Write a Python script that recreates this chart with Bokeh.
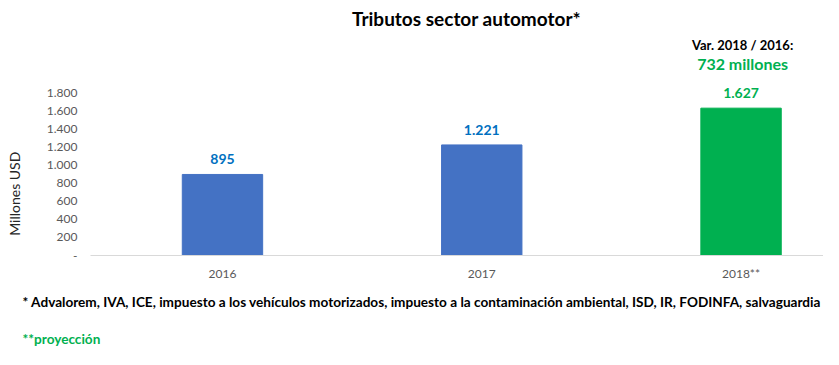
from bokeh.plotting import figure
from bokeh.models import ColumnDataSource, Range1d, FixedTicker, Label, LabelSet
from bokeh.layouts import column, row
from bokeh.core.properties import value
from bokeh.embed import file_html
from bokeh.resources import INLINE
import math

# ---- data ----
years = ["2016", "2017", "2018**"]
tributos = [895, 1221, 1627]
bar_colors = ["#4472C4", "#4472C4", "#00B050"]
label_colors = ["#0070C0", "#0070C0", "#00B050"]
y_ticks = [0, 200, 400, 600, 800, 1000, 1200, 1400, 1600, 1800]
y_tick_labels = ["-", "200", "400", "600", "800", "1.000", "1.200", "1.400", "1.600", "1.800"]
title_text = "Tributos sector automotor*"
var_title = "Var. 2018 / 2016:"
var_text = "732 millones"
y_label = "Millones USD"
note1 = "* Advalorem, IVA, ICE, impuesto a los vehículos motorizados, impuesto a la contaminación ambiental, ISD, IR, FODINFA, salvaguardia"
note2 = "**proyección"

FONT = "Lato"
GREEN = "#00B050"

idx = list(range(len(years)))
src = ColumnDataSource(dict(
    x=idx,
    top=tributos,
    color=bar_colors,
    lcolor=label_colors,
    label=[f"{v:,}".replace(",", ".") for v in tributos],
))


def blank(fig):
    fig.outline_line_color = None
    fig.xgrid.grid_line_color = None
    fig.ygrid.grid_line_color = None
    fig.background_fill_color = "white"
    fig.border_fill_color = "white"


def mk_label(fig, text, x, y, size, color="black", bold=True, align="center", angle=0.0):
    fig.add_layout(Label(x=x, y=y, text=text, text_font=FONT, text_font_size=size,
                         text_font_style="bold" if bold else "normal",
                         text_color=color, text_align=align, text_baseline="middle",
                         angle=angle))


# ---- main chart ----
p = figure(width=793, height=285, output_backend="svg", toolbar_location=None,
           x_range=Range1d(-0.509, 2.318), y_range=Range1d(0, 2816),
           min_border_left=60, min_border_right=0, min_border_top=0, min_border_bottom=30)
blank(p)

p.vbar(x="x", top="top", width=0.31, color="color", source=src)

p.add_layout(LabelSet(x="x", y="top", text="label", source=src, y_offset=15,
                      text_align="center", text_baseline="middle",
                      text_color="lcolor", text_font=value(FONT),
                      text_font_size=value("14px"), text_font_style=value("bold")))

xa = p.xaxis[0]
xa.ticker = FixedTicker(ticks=idx)
xa.major_label_overrides = {i: y for i, y in zip(idx, years)}
xa.axis_line_color = "#D9D9D9"
xa.major_tick_line_color = None
xa.minor_tick_line_color = None
xa.major_tick_out = 0
xa.major_label_standoff = 10
xa.major_label_text_font = FONT
xa.major_label_text_font_size = "12px"
xa.major_label_text_color = "#595959"

ya = p.yaxis[0]
ya.ticker = FixedTicker(ticks=y_ticks)
ya.major_label_overrides = {t: s for t, s in zip(y_ticks, y_tick_labels)}
ya.axis_line_color = None
ya.major_tick_line_color = None
ya.minor_tick_line_color = None
ya.major_tick_out = 0
ya.major_label_standoff = 13
ya.major_label_text_font = FONT
ya.major_label_text_font_size = "12px"
ya.major_label_text_color = "#595959"

mk_label(p, title_text, 0.941, 2617, "19px")
mk_label(p, var_title, 2.006, 2330, "13px")
mk_label(p, var_text, 2.006, 2120, "16px", color=GREEN)

# ---- y axis title panel ----
left = figure(width=30, height=285, output_backend="svg", toolbar_location=None,
              x_range=Range1d(0, 30), y_range=Range1d(285, 0),
              min_border=0, x_axis_type=None, y_axis_type=None)
blank(left)
mk_label(left, y_label, 14, 216, "14px", color="#262626", bold=False, angle=math.pi / 2)

# ---- footnotes panel ----
notes = figure(width=823, height=64, output_backend="svg", toolbar_location=None,
               x_range=Range1d(0, 823), y_range=Range1d(64, 0),
               min_border=0, x_axis_type=None, y_axis_type=None)
blank(notes)
mk_label(notes, note1, 22, 16, "13.6px", align="left")
mk_label(notes, note2, 22, 53, "13.6px", color=GREEN, align="left")

layout = column(row(left, p), notes)
open("out.html", "w").write(file_html(layout, INLINE))
